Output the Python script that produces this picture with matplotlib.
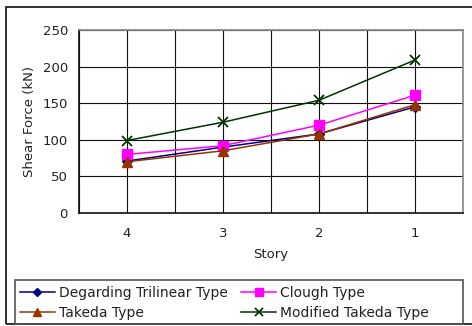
import matplotlib
matplotlib.use("Agg")
import matplotlib.pyplot as plt
from matplotlib.patches import Rectangle
import numpy as np

stories = ["4", "3", "2", "1"]
degrading = [71, 90, 108, 145]
clough = [80, 92, 120, 161]
takeda = [70, 85, 108, 148]
mod_takeda = [99, 124, 154, 209]

W, H = 472, 326
fig = plt.figure(figsize=(W / 100, H / 100), dpi=100)
plt.rcParams['font.family'] = ['DejaVu Sans']

# outer frame
fig.patches.append(Rectangle((6 / W, 1 - 324 / H), 1.0, (324 - 7) / H,
                             transform=fig.transFigure, fill=False,
                             edgecolor='#222222', linewidth=1.3))
# legend frame
fig.patches.append(Rectangle((15 / W, 1 - 324 / H), 448 / W, 44 / H,
                             transform=fig.transFigure, fill=False,
                             edgecolor='#555555', linewidth=1.2))

ax = fig.add_axes([79 / W, 1 - 213 / H, 384 / W, 183 / H])
x = np.arange(len(stories))

ax.set_xlim(-0.5, len(stories) - 0.5)
ax.set_ylim(0, 250)
ax.set_yticks(np.arange(0, 251, 50))
ax.set_xticks(x)
ax.set_xticklabels(stories)
ax.set_xticks(np.arange(-0.5, len(stories), 0.5), minor=True)
ax.tick_params(axis='both', which='both', length=0, labelsize=9.5, colors='#222222')
ax.tick_params(axis='x', pad=10)
ax.tick_params(axis='y', pad=8)
ax.grid(True, which='both', axis='x', color='#111111', linewidth=0.8)
ax.grid(True, which='major', axis='y', color='#111111', linewidth=0.8)
for s in ['top', 'right']:
    ax.spines[s].set_color('#888888')
    ax.spines[s].set_linewidth(1.2)
for s in ['left', 'bottom']:
    ax.spines[s].set_color('#111111')
    ax.spines[s].set_linewidth(1.2)

l1, = ax.plot(x, degrading, color='#000080', marker='D', markersize=5, linewidth=1.1,
              label='Degarding Trilinear Type')
l2, = ax.plot(x, clough, color='#FF00FF', marker='s', markersize=7.5, linewidth=1.1,
              label='Clough Type')
l3, = ax.plot(x, takeda, color='#993300', marker='^', markersize=7, linewidth=1.1,
              label='Takeda Type')
l4, = ax.plot(x, mod_takeda, color='#003300', marker='x', markersize=7, markeredgewidth=1.3,
              linewidth=1.1, label='Modified Takeda Type')

ax.set_xlabel('Story', fontsize=9.5, color='#222222', labelpad=6)
ax.set_ylabel('Shear Force (kN)', fontsize=9.5, color='#222222', labelpad=5)

leg = fig.legend(handles=[l1, l3, l2, l4], ncol=2, loc='upper left',
                 bbox_to_anchor=(17 / W, 1 - 283 / H),
                 fontsize=10, frameon=False, borderaxespad=0,
                 handlelength=2.5, handletextpad=0.3, columnspacing=1.0,
                 labelspacing=0.45, borderpad=0.2, markerscale=0.85)
for t in leg.get_texts():
    t.set_color('#222222')

fig.savefig('out.png', dpi=100)
